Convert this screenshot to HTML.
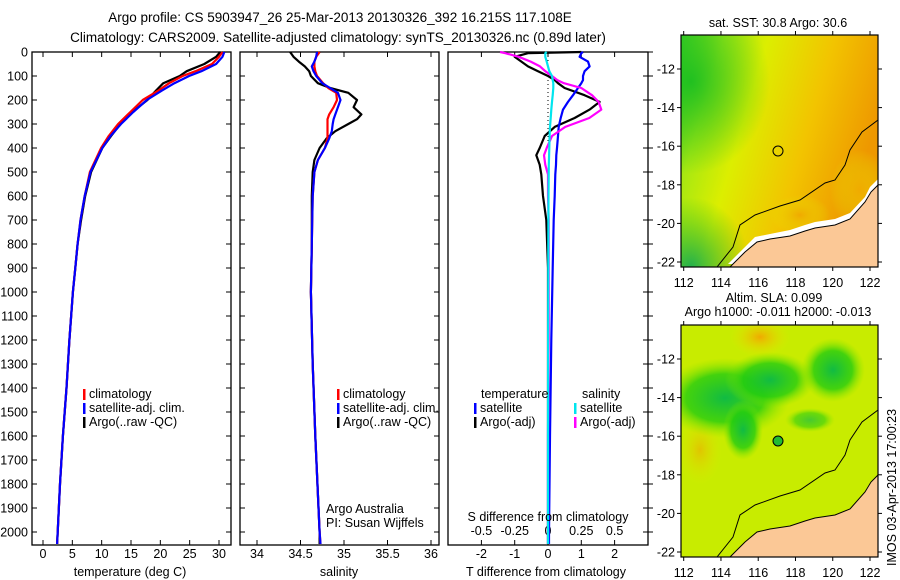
<!DOCTYPE html>
<html><head><meta charset="utf-8">
<style>
html,body{margin:0;padding:0;background:#fff;}
svg{display:block;font-family:"Liberation Sans",sans-serif;}
text{font-size:12.5px;fill:#000;}
</style></head>
<body>
<svg id="fig" width="900" height="580" viewBox="0 0 900 580">
<defs>
<linearGradient id="sstg" x1="0" y1="0" x2="1" y2="0.35">
<stop offset="0" stop-color="#44d022"/><stop offset="0.2" stop-color="#a8e811"/><stop offset="0.4" stop-color="#dcee00"/><stop offset="0.7" stop-color="#f2c400"/><stop offset="1" stop-color="#ee9800"/>
</linearGradient>
<radialGradient id="sstgreen" cx="0.05" cy="0.2" r="0.4"><stop offset="0" stop-color="#11bb22" stop-opacity="0.85"/><stop offset="1" stop-color="#11bb22" stop-opacity="0"/></radialGradient>
<radialGradient id="sstgreen2" cx="0.05" cy="1" r="0.3"><stop offset="0" stop-color="#11aa55" stop-opacity="0.9"/><stop offset="1" stop-color="#11bb22" stop-opacity="0"/></radialGradient>
<radialGradient id="blobg" cx="0.5" cy="0.5" r="0.5"><stop offset="0" stop-color="#11bb44"/><stop offset="0.6" stop-color="#22cc11" stop-opacity="0.8"/><stop offset="1" stop-color="#88e600" stop-opacity="0"/></radialGradient>
<radialGradient id="bloby" cx="0.5" cy="0.5" r="0.5"><stop offset="0" stop-color="#f0aa00"/><stop offset="1" stop-color="#e6e600" stop-opacity="0"/></radialGradient>
<clipPath id="m1c"><rect x="681" y="35" width="197" height="232"/></clipPath>
<clipPath id="m2c"><rect x="681" y="325" width="197" height="232"/></clipPath>
</defs>

<text x="340" y="22" text-anchor="middle" style="font-size:13.5px">Argo profile: CS 5903947_26 25-Mar-2013 20130326_392 16.215S 117.108E</text>
<text x="338" y="42" text-anchor="middle" style="font-size:13.5px">Climatology: CARS2009. Satellite-adjusted climatology: synTS_20130326.nc (0.89d later)</text>

<g id="p1"></g>
<g id="p2"></g>
<g id="p3"></g>

<g>
<text x="778" y="27" text-anchor="middle">sat. SST: 30.8  Argo: 30.6</text>
<g clip-path="url(#m1c)">
<rect x="681" y="35" width="197" height="232" fill="url(#sstg)"/>
<rect x="681" y="35" width="197" height="232" fill="url(#sstgreen)"/>
<rect x="681" y="35" width="197" height="232" fill="url(#sstgreen2)"/>
<ellipse cx="860" cy="190" rx="30" ry="40" fill="url(#bloby)"/>
<ellipse cx="800" cy="215" rx="30" ry="20" fill="url(#bloby)"/>
<polygon points="728,267 745,250 755,240 770,237 790,233 805,228 815,225 835,222 850,216 865,200 870,190 878,182 878,267" fill="#fff" transform="translate(0,-3)"/>
<polygon points="730,267 745,252 757,242 770,239 790,236 805,231 815,228 835,225 850,219 865,202 871,192 878,185 878,267" fill="#fbc896"/>
<polyline points="717,267 733,247 740,225 755,215 780,206 800,200 825,183 835,180 845,165 850,150 862,132 878,120" fill="none" stroke="#000" stroke-width="1"/>
<polyline points="730,267 745,252 757,242 770,239 790,236 805,231 815,228 835,225 850,219 865,202 871,192 878,185" fill="none" stroke="#000" stroke-width="1"/>
<circle cx="778" cy="151" r="5" fill="none" stroke="#000" stroke-width="1"/>
</g>
<rect x="681" y="35" width="197" height="232" fill="none" stroke="#000" stroke-width="1.2"/>
</g>

<g>
<text x="774" y="302" text-anchor="middle">Altim. SLA: 0.099</text>
<text x="778" y="316" text-anchor="middle">Argo h1000: -0.011  h2000: -0.013</text>
<g clip-path="url(#m2c)">
<rect x="681" y="325" width="197" height="232" fill="#c8ec00"/>
<ellipse cx="760" cy="337" rx="30" ry="20" fill="url(#bloby)"/>
<ellipse cx="700" cy="450" rx="22" ry="35" fill="url(#bloby)" opacity="0.6"/>
<ellipse cx="725" cy="398" rx="65" ry="40" fill="url(#blobg)"/>
<ellipse cx="770" cy="380" rx="45" ry="28" fill="url(#blobg)"/>
<ellipse cx="743" cy="430" rx="20" ry="30" fill="url(#blobg)"/>
<ellipse cx="833" cy="370" rx="32" ry="32" fill="url(#blobg)"/>
<ellipse cx="810" cy="420" rx="25" ry="12" fill="url(#blobg)" opacity="0.7"/>
<polygon points="730,557 745,542 757,532 770,529 790,526 805,521 815,518 835,515 850,509 865,492 871,482 878,475 878,557" fill="#fbc896"/>
<polyline points="717,557 733,537 740,515 755,505 780,496 800,490 825,473 835,470 845,455 850,440 862,422 878,410" fill="none" stroke="#000" stroke-width="1"/>
<polyline points="730,557 745,542 757,532 770,529 790,526 805,521 815,518 835,515 850,509 865,492 871,482 878,475" fill="none" stroke="#000" stroke-width="1"/>
<circle cx="778" cy="441" r="5" fill="#22bb33" stroke="#000" stroke-width="1"/>
</g>
<rect x="681" y="325" width="197" height="232" fill="none" stroke="#000" stroke-width="1.2"/>
</g>
<g id="mapaxes"></g>
<text transform="translate(896,566) rotate(-90)">IMOS 03-Apr-2013 17:00:23</text>
</svg>

<script>
// ---- data ----
const depthsT = [0,20,50,80,100,130,160,200,250,300,350,400,500,600,700,800,900,1000,1200,1400,1600,1800,2000,2050];
const tempArgo = [30.2,29.5,27.5,24.5,23.3,20.5,19.3,17.8,15.2,13.2,11.6,10.1,8.2,7.2,6.5,5.9,5.5,5.1,4.5,4.0,3.4,2.9,2.5,2.4];
const tempClim = [30.6,30.0,28.8,26.0,23.8,21.5,19.7,17.0,14.9,12.8,11.2,9.9,8.0,7.1,6.4,5.9,5.5,5.1,4.5,4.0,3.4,2.9,2.5,2.4];
const tempSat  = [30.9,30.6,29.5,27.0,24.9,22.4,20.3,17.7,15.4,13.3,11.5,10.1,8.1,7.1,6.4,5.9,5.5,5.1,4.5,4.0,3.4,2.9,2.5,2.4];

const depthsS = [0,20,40,60,80,100,130,150,170,200,230,260,280,300,330,360,400,450,500,600,800,1000,1300,1600,2000,2050];
const salArgo = [34.38,34.42,34.48,34.55,34.60,34.62,34.70,34.84,35.05,35.15,35.11,35.20,35.15,35.05,34.90,34.80,34.72,34.66,34.64,34.63,34.63,34.62,34.64,34.67,34.72,34.72];
const salClim = [34.72,34.68,34.66,34.66,34.67,34.69,34.76,34.82,34.91,34.92,34.88,34.83,34.81,34.81,34.81,34.81,34.78,34.70,34.66,34.64,34.63,34.62,34.64,34.67,34.72,34.73];
const salSat  = [34.69,34.68,34.66,34.63,34.65,34.68,34.75,34.84,34.93,34.96,34.93,34.90,34.88,34.87,34.86,34.83,34.78,34.70,34.66,34.64,34.63,34.62,34.64,34.67,34.72,34.73];

const depthsD = [0,5,20,40,60,80,100,117,130,150,180,208,240,275,312,350,400,430,470,510,600,700,900,1200,1600,2000,2050];
const dTsat  = [1.05,1.0,0.95,1.2,1.25,1.1,1.05,1.05,1.0,0.9,0.75,0.6,0.45,0.38,0.32,0.3,0.27,0.25,0.24,0.22,0.2,0.17,0.14,0.1,0.06,0.03,0.03];
const dTargo = [1.0,-0.6,-1.0,-0.8,-0.6,-0.3,0.0,0.2,0.3,0.5,1.1,1.55,1.25,0.8,0.2,-0.1,-0.25,-0.35,-0.25,-0.2,-0.15,-0.05,0,0,0,0,0];
const dSsat  = [-0.01,-0.02,-0.02,-0.01,0.0,0.01,0.03,0.035,0.04,0.04,0.035,0.03,0.025,0.02,0.015,0.012,0.01,0.008,0.006,0.005,0.004,0.003,0.002,0.001,0.0,0.0,0.0];
const dSargo = [-0.36,-0.32,-0.22,-0.13,-0.06,-0.02,0.03,0.07,0.12,0.25,0.33,0.38,0.40,0.31,0.13,0.03,-0.01,-0.03,-0.02,0.0,0.0,0.005,0.005,0.005,0.0,0.0,0.0];

const depthTicks = [0,100,200,300,400,500,600,700,800,900,1000,1100,1200,1300,1400,1500,1600,1700,1800,1900,2000];
const tempTicks = [0,5,10,15,20,25,30];
const salTicks = [34,34.5,35,35.5,36];
const dTTicks = [-2,-1,0,1,2];
const dSTicks = [-0.5,-0.25,0,0.25,0.5];
const dSTickLabels = ['-0.5','-0.25','0','0.25','0.5'];

// ---- axes ----
const NS='http://www.w3.org/2000/svg';
const Y0=52, PXPM=0.24, YB=545;
const yD = d => Y0 + d*PXPM;
const xT = v => 43 + v*(176/30);
const xS = v => 257 + (v-34)*87;
const xDT = v => 548 + v*33.3;
const xDS = v => 548 + v*133.2;

function el(parent, tag, attrs){const e=document.createElementNS(NS,tag);for(const k in attrs)e.setAttribute(k,attrs[k]);parent.appendChild(e);return e;}
function txt(parent,x,y,s,anchor){const t=el(parent,'text',{x:x,y:y,'text-anchor':anchor||'start'});t.textContent=s;return t;}

function frame(g,x0,x1,leftLabels){
  el(g,'rect',{x:x0,y:Y0,width:x1-x0,height:YB-Y0,fill:'none',stroke:'#000','stroke-width':1.3});
  depthTicks.forEach(d=>{
    const y=yD(d);
    el(g,'line',{x1:x0,x2:x0+5,y1:y,y2:y,stroke:'#000'});
    el(g,'line',{x1:x1-5,x2:x1,y1:y,y2:y,stroke:'#000'});
    if(leftLabels){const t=txt(g,28,y+4.5,String(d),'end');
      
      }
  });
}
function xticks(g,ticks,fx,labels,ly){
  ticks.forEach((v,i)=>{
    const x=fx(v);
    el(g,'line',{x1:x,x2:x,y1:Y0,y2:Y0+5,stroke:'#000'});
    el(g,'line',{x1:x,x2:x,y1:YB-5,y2:YB,stroke:'#000'});
    const t=txt(g,x,ly,labels?labels[i]:String(v),'middle');
    
    
  });
}
function line(g,xs,ds,fx,color,name,w){
  const pts=xs.map((v,i)=>fx(v).toFixed(1)+','+yD(ds[i]).toFixed(1)).join(' ');
  const p=el(g,'polyline',{points:pts,fill:'none',stroke:color,'stroke-width':w||2.2,'stroke-linejoin':'round'});
  
  
}
function legend(g,x,y,items){
  items.forEach((it,i)=>{
    const yy=y+i*14;
    el(g,'rect',{x:x,y:yy-9,width:2.5,height:11,fill:it[1]});
    const t=txt(g,x+6,yy,it[0]);
    
    
  });
}

const p1=document.getElementById('p1');
frame(p1,32,231,true);
xticks(p1,tempTicks,xT,null,558);
line(p1,tempArgo,depthsT,xT,'#000','argo-temperature-line');
line(p1,tempClim,depthsT,xT,'#ff0000','climatology-temperature-line');
line(p1,tempSat,depthsT,xT,'#0000ff','satellite-temperature-line');
txt(p1,130,576,'temperature (deg C)','middle');
legend(p1,83,398,[['climatology','#ff0000'],['satellite-adj. clim.','#0000ff'],['Argo(..raw -QC)','#000']]);

const p2=document.getElementById('p2');
frame(p2,240,439,false);
xticks(p2,salTicks,xS,null,558);
line(p2,salArgo,depthsS,xS,'#000','argo-salinity-line');
line(p2,salClim,depthsS,xS,'#ff0000','climatology-salinity-line');
line(p2,salSat,depthsS,xS,'#0000ff','satellite-salinity-line');
txt(p2,339,576,'salinity','middle');
legend(p2,337,398,[['climatology','#ff0000'],['satellite-adj. clim.','#0000ff'],['Argo(..raw -QC)','#000']]);
txt(p2,326,513,'Argo Australia');
txt(p2,326,527,'PI: Susan Wijffels');

const p3=document.getElementById('p3');
el(p3,'rect',{x:448,y:Y0,width:200,height:YB-Y0,fill:'none',stroke:'#000','stroke-width':1.3});
depthTicks.forEach(d=>{const y=yD(d);el(p3,'line',{x1:643,x2:648,y1:y,y2:y,stroke:'#000'});el(p3,'line',{x1:648,x2:653,y1:y,y2:y,stroke:'#000'});});
dTTicks.forEach(v=>{const x=xDT(v);el(p3,'line',{x1:x,x2:x,y1:Y0,y2:Y0+5,stroke:'#000'});el(p3,'line',{x1:x,x2:x,y1:YB-5,y2:YB,stroke:'#000'});
  const t=txt(p3,x,558,String(v),'middle');});
dSTicks.forEach((v,i)=>{const t=txt(p3,xDS(v),535,dSTickLabels[i],'middle');});
el(p3,'line',{x1:548,x2:548,y1:Y0,y2:145,stroke:'#000','stroke-dasharray':'1,3'});
line(p3,dTargo,depthsD,xDT,'#000','argo-t-diff-line');
line(p3,dTsat,depthsD,xDT,'#0000ff','satellite-t-diff-line');
line(p3,dSargo,depthsD,xDS,'#ff00ff','argo-s-diff-line');
line(p3,dSsat,depthsD,xDS,'#00e5ee','satellite-s-diff-line');
txt(p3,548,521,'S difference from climatology','middle');
txt(p3,546,576,'T difference from climatology','middle');
txt(p3,481,398,'temperature');
txt(p3,582,398,'salinity');
legend(p3,474,412,[['satellite','#0000ff'],['Argo(-adj)','#000']]);
legend(p3,574,412,[['satellite','#00e5ee'],['Argo(-adj)','#ff00ff']]);

const mapLon=[112,114,116,118,120,122];
const mapLat=[-12,-14,-16,-18,-20,-22];
const ma=document.getElementById('mapaxes');
const xLon = v => 683.7 + (v-112)*18.63;
[[35,69],[325,359]].forEach(([top,lat12])=>{
  const yLat = v => lat12 + (-12 - v)*19.3;
  mapLon.forEach(v=>{const x=xLon(v);el(ma,'line',{x1:x,x2:x,y1:top-4,y2:top,stroke:'#000'});el(ma,'line',{x1:x,x2:x,y1:top+232,y2:top+236,stroke:'#000'});
    const t=txt(ma,x,top+252,String(v),'middle');});
  mapLat.forEach(v=>{const y=yLat(v);el(ma,'line',{x1:677,x2:681,y1:y,y2:y,stroke:'#000'});el(ma,'line',{x1:878,x2:882,y1:y,y2:y,stroke:'#000'});
    const t=txt(ma,675,y+4.5,String(v),'end');});
});
</script>
</body></html>
